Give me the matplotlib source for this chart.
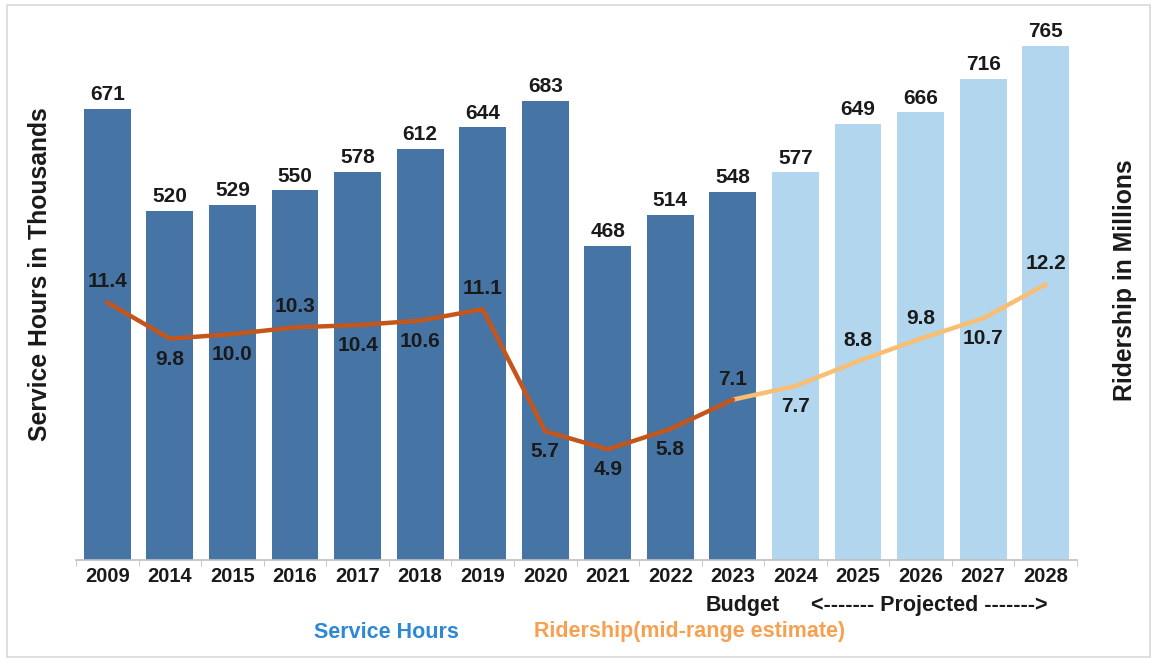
import matplotlib.pyplot as plt
import numpy as np
from matplotlib.patches import Rectangle

plt.rcParams['font.family'] = ['Liberation Sans', 'DejaVu Sans']

years = ['2009', '2014', '2015', '2016', '2017', '2018', '2019', '2020',
         '2021', '2022', '2023', '2024', '2025', '2026', '2027', '2028']
service_hours = [671, 520, 529, 550, 578, 612, 644, 683,
                 468, 514, 548, 577, 649, 666, 716, 765]
ridership = [11.4, 9.8, 10.0, 10.3, 10.4, 10.6, 11.1, 5.7,
             4.9, 5.8, 7.1, 7.7, 8.8, 9.8, 10.7, 12.2]
# label above (+1) or below (-1) the line point
rider_pos = [1, -1, -1, 1, -1, -1, 1, -1, -1, -1, 1, -1, 1, 1, -1, 1]
n_actual = 11  # 2009..2023 are actuals

dark_blue = '#4674A5'
light_blue = '#B1D6EE'
dark_orange = '#C5561B'
light_orange = '#F9BE72'
txt = '#1a1a1a'

fig = plt.figure(figsize=(11.52, 6.58), dpi=100)
fig.patches.append(Rectangle((7 / 1152, 1 / 658), 1143 / 1152, 652 / 658,
                             transform=fig.transFigure, fill=False,
                             edgecolor='#D9D9D9', linewidth=1.2))

ax = fig.add_axes([76 / 1152, 98 / 658, 1001 / 1152, 537.6 / 658])
x = np.arange(len(years))
colors = [dark_blue if i < n_actual else light_blue for i in range(len(years))]
ax.bar(x, service_hours, width=0.75, color=colors, zorder=2)
for xi, v in zip(x, service_hours):
    ax.text(xi, v + 7, str(v), ha='center', va='bottom', fontsize=15,
            fontweight='bold', color=txt)

ax.set_xlim(-0.5, len(years) - 0.5)
ax.set_ylim(0, 800)
ax.set_xticks(x)
ax.set_xticklabels(years, fontsize=14.5, fontweight='bold', color=txt)
ax.set_xticks(np.arange(-0.5, len(years)), minor=True)
ax.tick_params(axis='x', which='major', length=0, pad=5)
ax.tick_params(axis='x', which='minor', length=4, color='#BFBFBF', direction='out')
ax.set_yticks([])
for s in ['top', 'right', 'left']:
    ax.spines[s].set_visible(False)
ax.spines['bottom'].set_color('#BFBFBF')
ax.spines['bottom'].set_linewidth(1.2)

ax2 = ax.twinx()
ax2.set_ylim(0, 23.8)
ax2.plot(x[n_actual - 1:], ridership[n_actual - 1:], color=light_orange,
         linewidth=3.2, solid_capstyle='round', zorder=3)
ax2.plot(x[:n_actual], ridership[:n_actual], color=dark_orange,
         linewidth=3.2, solid_capstyle='round', zorder=4)
for xi, v, p in zip(x, ridership, rider_pos):
    ax2.annotate(f'{v:.1f}', (xi, v), xytext=(0, 8 * p), textcoords='offset points',
                 ha='center', va='bottom' if p > 0 else 'top', fontsize=15,
                 fontweight='bold', color=txt)
ax2.set_yticks([])
for s in ['top', 'right', 'left', 'bottom']:
    ax2.spines[s].set_visible(False)

fig.text(40 / 1152, 1 - 274 / 658, 'Service Hours in Thousands', rotation=90,
         ha='center', va='center', fontsize=17.8, fontweight='bold', color=txt)
fig.text(1125 / 1152, 1 - 280 / 658, 'Ridership in Millions', rotation=90,
         ha='center', va='center', fontsize=17.8, fontweight='bold', color=txt)

fig.text(743 / 1152, 1 - 606 / 658, 'Budget', ha='center', va='center',
         fontsize=15.5, fontweight='bold', color=txt)
fig.text(929 / 1152, 1 - 606 / 658, '<------- Projected ------->', ha='center',
         va='center', fontsize=15.5, fontweight='bold', color=txt)
fig.text(386 / 1152, 1 - 632 / 658, 'Service Hours', ha='center', va='center',
         fontsize=15.5, fontweight='bold', color='#2F88D4')
fig.text(690 / 1152, 1 - 632 / 658, 'Ridership(mid-range estimate)', ha='center',
         va='center', fontsize=15.5, fontweight='bold', color='#F7A150')

plt.savefig('out.png', dpi=100)
